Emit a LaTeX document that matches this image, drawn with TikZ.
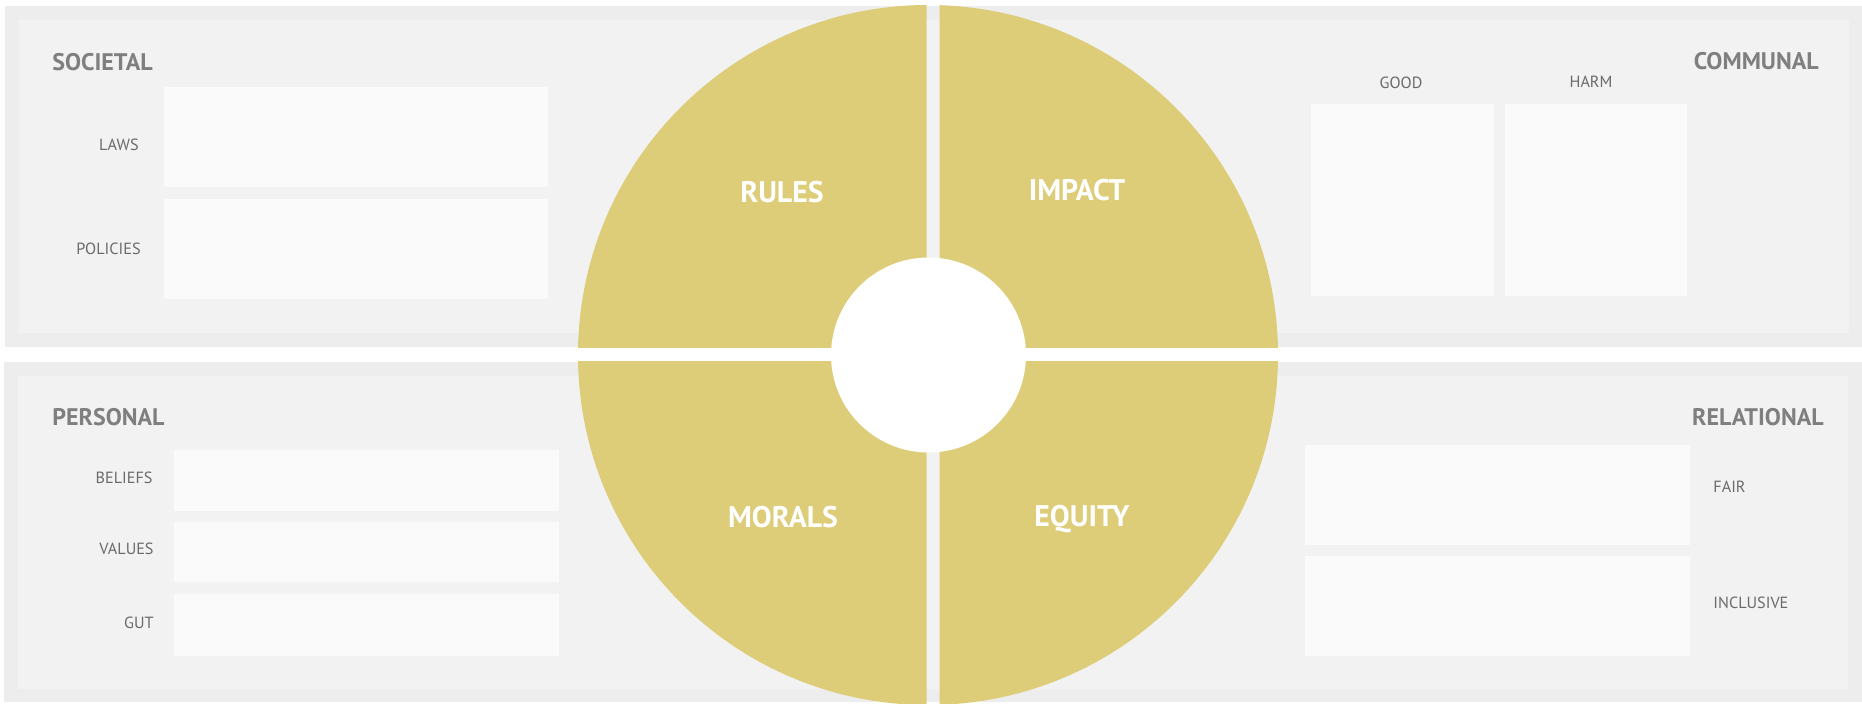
\documentclass[tikz,border=0pt]{standalone}
\usepackage{fontspec}
\setmainfont{PT Sans}
\definecolor{bandout}{HTML}{EDEDED}
\definecolor{bandin}{HTML}{F2F2F2}
\definecolor{slot}{HTML}{FAFAFA}
\definecolor{wheel}{HTML}{DDCC78}
\definecolor{headgray}{HTML}{7F7F7F}
\definecolor{labgray}{HTML}{6A6A6A}
\tikzset{
  outerband/.style={fill=bandout, draw=none},
  innerband/.style={fill=bandin, draw=none},
  slotbox/.style={fill=slot, draw=none},
  heading/.style={inner sep=0pt, text depth=0pt, text=headgray, font=\fontsize{12pt}{14pt}\selectfont\bfseries},
  smalllab/.style={inner sep=0pt, text depth=0pt, text=labgray, font=\fontsize{8.1pt}{10pt}\selectfont},
  quadlab/.style={inner sep=0pt, text depth=0pt, text=white, font=\fontsize{14.9pt}{17pt}\selectfont\bfseries},
  quadfill/.style={fill=wheel, draw=none}
}
\begin{document}
\begin{tikzpicture}[x=0.5pt,y=-0.5pt]
\useasboundingbox[fill=white] (0,0) rectangle (1862,704);
% bands
\fill[outerband] (5,6) rectangle (1862,347);
\fill[innerband] (19,20) rectangle (1849,333);
\fill[outerband] (4,362) rectangle (1862,702);
\fill[innerband] (18,376) rectangle (1848,689);
% slots
\fill[slotbox] (164,87) rectangle (548,187);
\fill[slotbox] (164,199) rectangle (548,299);
\fill[slotbox] (1311,104) rectangle (1494,296);
\fill[slotbox] (1505,104) rectangle (1687,296);
\fill[slotbox] (174,450) rectangle (559,511);
\fill[slotbox] (174,522) rectangle (559,582);
\fill[slotbox] (174,594) rectangle (559,656);
\fill[slotbox] (1305,445) rectangle (1690,545);
\fill[slotbox] (1305,556) rectangle (1690,656);
% labels
\node[heading, anchor=west] (societal) at (52,61.5) {SOCIETAL};
\node[heading, anchor=east] (communal) at (1819,61) {COMMUNAL};
\node[heading, anchor=west] (personal) at (52,416.5) {PERSONAL};
\node[heading, anchor=east] (relational) at (1824,416.5) {RELATIONAL};
\node[smalllab, anchor=east] (laws) at (139,144.5) {LAWS};
\node[smalllab, anchor=east] (policies) at (141,248.5) {POLICIES};
\node[smalllab] (good) at (1401,83) {GOOD};
\node[smalllab] (harm) at (1591,81.5) {HARM};
\node[smalllab, anchor=east] (beliefs) at (153,477.5) {BELIEFS};
\node[smalllab, anchor=east] (values) at (154,549) {VALUES};
\node[smalllab, anchor=east] (gut) at (154,622.5) {GUT};
\node[smalllab, anchor=west] (fair) at (1713,486.5) {FAIR};
\node[smalllab, anchor=west] (inclusive) at (1713,602.5) {INCLUSIVE};
% wheel quadrants
\begin{scope}
  \clip (0,0) rectangle (926.5,348);
  \fill[quadfill] (928,355) circle (350);
\end{scope}
\begin{scope}
  \clip (939.5,0) rectangle (1862,348);
  \fill[quadfill] (928,355) circle (350);
\end{scope}
\begin{scope}
  \clip (0,362) rectangle (926.5,704);
  \fill[quadfill] (928,355) circle (350);
\end{scope}
\begin{scope}
  \clip (939.5,362) rectangle (1862,704);
  \fill[quadfill] (928,355) circle (350);
\end{scope}
\fill[white] (928.5,355) circle (97.5);
\node[quadlab] (rules) at (782,192) {RULES};
\node[quadlab] (impact) at (1077,190) {IMPACT};
\node[quadlab] (morals) at (783,517) {MORALS};
\node[quadlab] (equity) at (1082,516) {EQUITY};
\end{tikzpicture}
\end{document}
